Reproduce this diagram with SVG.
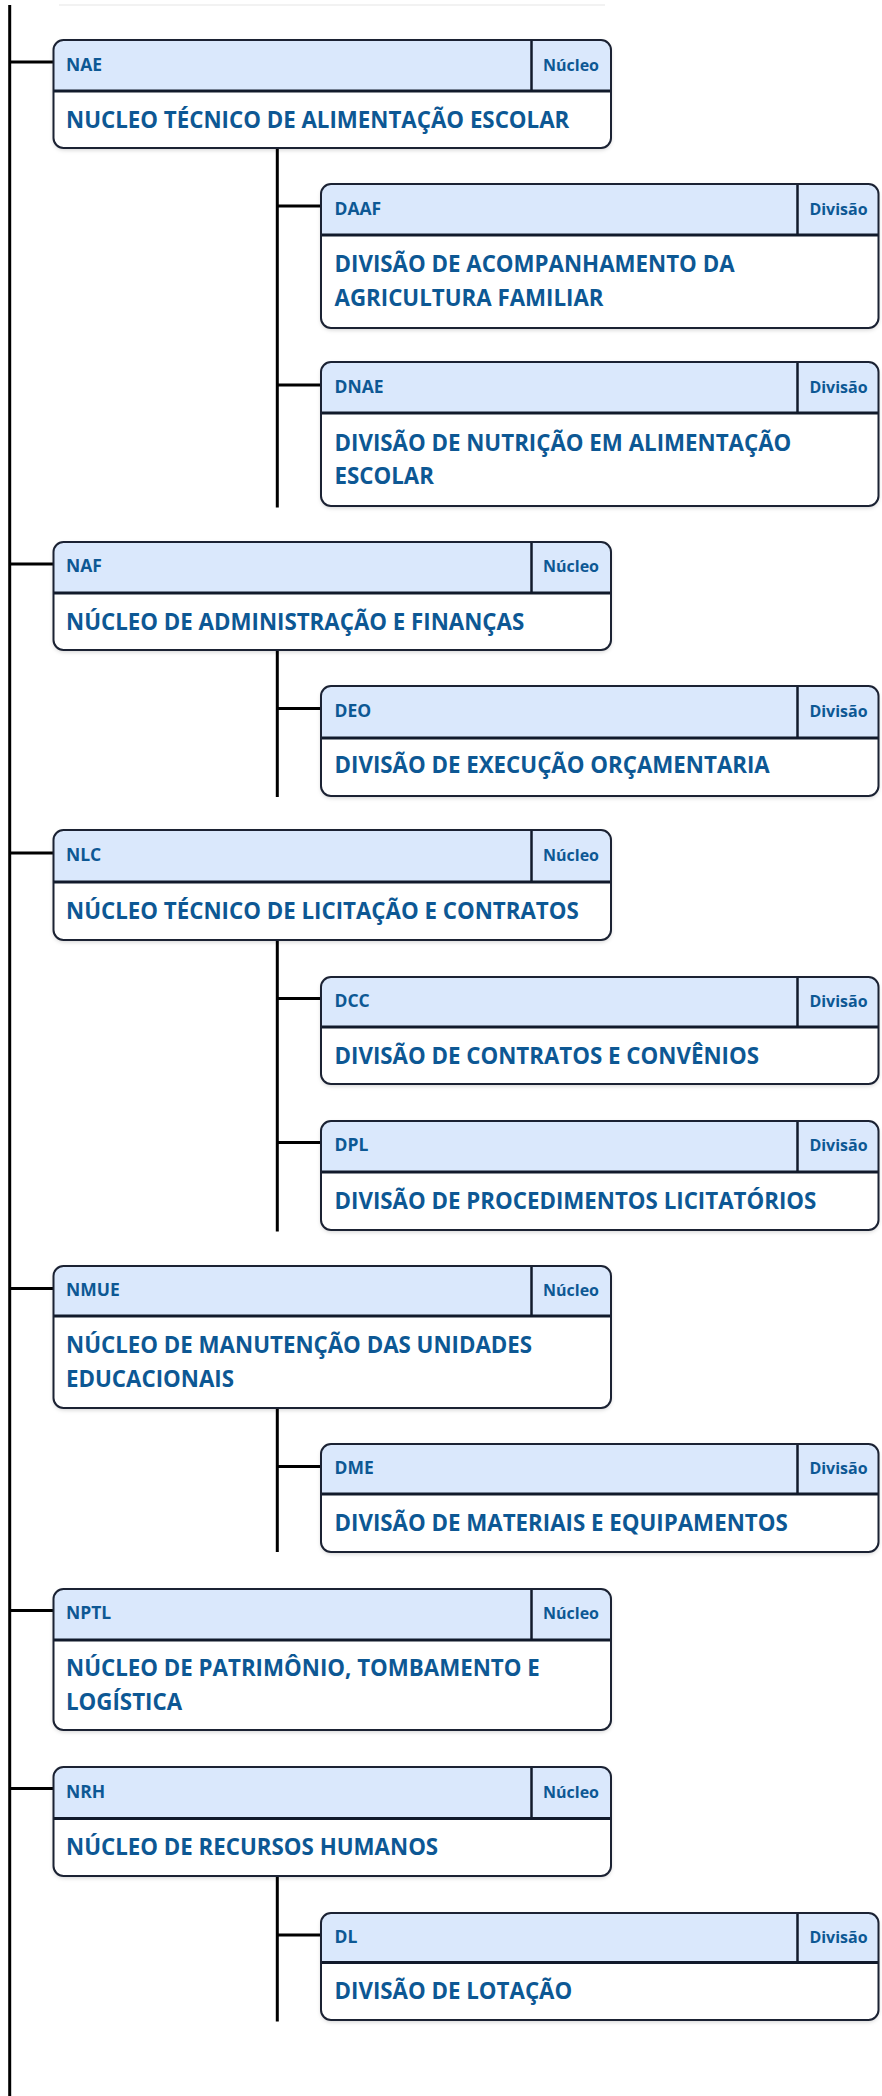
<svg xmlns="http://www.w3.org/2000/svg" width="882" height="2096" viewBox="0 0 882 2096">
<defs>
<filter id="sh" x="-5%" y="-10%" width="110%" height="130%">
<feDropShadow dx="0" dy="2" stdDeviation="2" flood-color="#000" flood-opacity="0.18"/>
</filter>
<style>
.bg{fill:#fff;filter:url(#sh)}
.hd{fill:#dae8fc}
.sep{stroke:#111a2b;stroke-width:3}
.dv{stroke:#111a2b;stroke-width:2.5}
.bd{fill:none;stroke:#1b2233;stroke-width:2}
text{font-family:"Open Sans","Noto Sans","DejaVu Sans",sans-serif;font-weight:700;fill:#0d5894}
.code{font-size:17.5px}
.type{font-size:16px;text-anchor:middle}
.ttl{font-size:22.3px}
.ln{stroke:#000;stroke-width:3;fill:none}
</style>
</defs>
<rect width="882" height="2096" fill="#fff"/>
<line x1="59" y1="5" x2="605" y2="5" stroke="#f2f2f2" stroke-width="2"/>

<g id="connectors" class="ln">
<path d="M9.7,5 V2096"/>
<path d="M9.7,62 H53.5 M9.7,564 H53.5 M9.7,853 H53.5 M9.7,1288.5 H53.5 M9.7,1610.5 H53.5 M9.7,1788.5 H53.5"/>
<path d="M277.3,148 V507.5 M277.3,206 H321 M277.3,385 H321"/>
<path d="M277.3,650 V797 M277.3,708.5 H321"/>
<path d="M277.3,939 V1231.5 M277.3,998.5 H321 M277.3,1142.5 H321"/>
<path d="M277.3,1408 V1552 M277.3,1466.5 H321"/>
<path d="M277.3,1876 V2021.5 M277.3,1935 H321"/>
</g>

<g id="NAE" transform="translate(53.5,40)">
<rect class="bg" width="557.5" height="108" rx="10"/>
<path class="hd" d="M0,51 V10 A10,10 0 0 1 10,0 H547.5 A10,10 0 0 1 557.5,10 V51 Z"/>
<line class="sep" x1="0" y1="51" x2="557.5" y2="51"/>
<line class="dv" x1="478" y1="0" x2="478" y2="51"/>
<rect class="bd" width="557.5" height="108" rx="10"/>
<text class="code" x="12.5" y="30.5">NAE</text>
<text class="type" x="517.5" y="30.5">Núcleo</text>
<text class="ttl" x="12.5" y="88">NUCLEO TÉCNICO DE ALIMENTAÇÃO ESCOLAR</text>
</g>

<g id="DAAF" transform="translate(321,184)">
<rect class="bg" width="557.5" height="144" rx="10"/>
<path class="hd" d="M0,51 V10 A10,10 0 0 1 10,0 H547.5 A10,10 0 0 1 557.5,10 V51 Z"/>
<line class="sep" x1="0" y1="51" x2="557.5" y2="51"/>
<line class="dv" x1="476.5" y1="0" x2="476.5" y2="51"/>
<rect class="bd" width="557.5" height="144" rx="10"/>
<text class="code" x="13.5" y="30.5">DAAF</text>
<text class="type" x="517.5" y="30.5">Divisão</text>
<text class="ttl" x="13.5" y="88">DIVISÃO DE ACOMPANHAMENTO DA</text>
<text class="ttl" x="13.5" y="122">AGRICULTURA FAMILIAR</text>
</g>

<g id="DNAE" transform="translate(321,362)">
<rect class="bg" width="557.5" height="144" rx="10"/>
<path class="hd" d="M0,51 V10 A10,10 0 0 1 10,0 H547.5 A10,10 0 0 1 557.5,10 V51 Z"/>
<line class="sep" x1="0" y1="51" x2="557.5" y2="51"/>
<line class="dv" x1="476.5" y1="0" x2="476.5" y2="51"/>
<rect class="bd" width="557.5" height="144" rx="10"/>
<text class="code" x="13.5" y="30.5">DNAE</text>
<text class="type" x="517.5" y="30.5">Divisão</text>
<text class="ttl" x="13.5" y="88.5">DIVISÃO DE NUTRIÇÃO EM ALIMENTAÇÃO</text>
<text class="ttl" x="13.5" y="122">ESCOLAR</text>
</g>

<g id="NAF" transform="translate(53.5,542)">
<rect class="bg" width="557.5" height="108" rx="10"/>
<path class="hd" d="M0,51 V10 A10,10 0 0 1 10,0 H547.5 A10,10 0 0 1 557.5,10 V51 Z"/>
<line class="sep" x1="0" y1="51" x2="557.5" y2="51"/>
<line class="dv" x1="478" y1="0" x2="478" y2="51"/>
<rect class="bd" width="557.5" height="108" rx="10"/>
<text class="code" x="12.5" y="30">NAF</text>
<text class="type" x="517.5" y="30">Núcleo</text>
<text class="ttl" x="12.5" y="87.5">NÚCLEO DE ADMINISTRAÇÃO E FINANÇAS</text>
</g>

<g id="DEO" transform="translate(321,686)">
<rect class="bg" width="557.5" height="110" rx="10"/>
<path class="hd" d="M0,52 V10 A10,10 0 0 1 10,0 H547.5 A10,10 0 0 1 557.5,10 V52 Z"/>
<line class="sep" x1="0" y1="52" x2="557.5" y2="52"/>
<line class="dv" x1="476.5" y1="0" x2="476.5" y2="52"/>
<rect class="bd" width="557.5" height="110" rx="10"/>
<text class="code" x="13.5" y="31">DEO</text>
<text class="type" x="517.5" y="31">Divisão</text>
<text class="ttl" x="13.5" y="87">DIVISÃO DE EXECUÇÃO ORÇAMENTARIA</text>
</g>

<g id="NLC" transform="translate(53.5,830)">
<rect class="bg" width="557.5" height="110" rx="10"/>
<path class="hd" d="M0,52 V10 A10,10 0 0 1 10,0 H547.5 A10,10 0 0 1 557.5,10 V52 Z"/>
<line class="sep" x1="0" y1="52" x2="557.5" y2="52"/>
<line class="dv" x1="478" y1="0" x2="478" y2="52"/>
<rect class="bd" width="557.5" height="110" rx="10"/>
<text class="code" x="12.5" y="31">NLC</text>
<text class="type" x="517.5" y="31">Núcleo</text>
<text class="ttl" x="12.5" y="89">NÚCLEO TÉCNICO DE LICITAÇÃO E CONTRATOS</text>
</g>

<g id="DCC" transform="translate(321,977)">
<rect class="bg" width="557.5" height="107" rx="10"/>
<path class="hd" d="M0,50 V10 A10,10 0 0 1 10,0 H547.5 A10,10 0 0 1 557.5,10 V50 Z"/>
<line class="sep" x1="0" y1="50" x2="557.5" y2="50"/>
<line class="dv" x1="476.5" y1="0" x2="476.5" y2="50"/>
<rect class="bd" width="557.5" height="107" rx="10"/>
<text class="code" x="13.5" y="30">DCC</text>
<text class="type" x="517.5" y="30">Divisão</text>
<text class="ttl" x="13.5" y="87">DIVISÃO DE CONTRATOS E CONVÊNIOS</text>
</g>

<g id="DPL" transform="translate(321,1121)">
<rect class="bg" width="557.5" height="109" rx="10"/>
<path class="hd" d="M0,51 V10 A10,10 0 0 1 10,0 H547.5 A10,10 0 0 1 557.5,10 V51 Z"/>
<line class="sep" x1="0" y1="51" x2="557.5" y2="51"/>
<line class="dv" x1="476.5" y1="0" x2="476.5" y2="51"/>
<rect class="bd" width="557.5" height="109" rx="10"/>
<text class="code" x="13.5" y="30">DPL</text>
<text class="type" x="517.5" y="30">Divisão</text>
<text class="ttl" x="13.5" y="88">DIVISÃO DE PROCEDIMENTOS LICITATÓRIOS</text>
</g>

<g id="NMUE" transform="translate(53.5,1266)">
<rect class="bg" width="557.5" height="142" rx="10"/>
<path class="hd" d="M0,50 V10 A10,10 0 0 1 10,0 H547.5 A10,10 0 0 1 557.5,10 V50 Z"/>
<line class="sep" x1="0" y1="50" x2="557.5" y2="50"/>
<line class="dv" x1="478" y1="0" x2="478" y2="50"/>
<rect class="bd" width="557.5" height="142" rx="10"/>
<text class="code" x="12.5" y="30">NMUE</text>
<text class="type" x="517.5" y="30">Núcleo</text>
<text class="ttl" x="12.5" y="87">NÚCLEO DE MANUTENÇÃO DAS UNIDADES</text>
<text class="ttl" x="12.5" y="121">EDUCACIONAIS</text>
</g>

<g id="DME" transform="translate(321,1444)">
<rect class="bg" width="557.5" height="108" rx="10"/>
<path class="hd" d="M0,50 V10 A10,10 0 0 1 10,0 H547.5 A10,10 0 0 1 557.5,10 V50 Z"/>
<line class="sep" x1="0" y1="50" x2="557.5" y2="50"/>
<line class="dv" x1="476.5" y1="0" x2="476.5" y2="50"/>
<rect class="bd" width="557.5" height="108" rx="10"/>
<text class="code" x="13.5" y="30">DME</text>
<text class="type" x="517.5" y="30">Divisão</text>
<text class="ttl" x="13.5" y="87">DIVISÃO DE MATERIAIS E EQUIPAMENTOS</text>
</g>

<g id="NPTL" transform="translate(53.5,1589)">
<rect class="bg" width="557.5" height="141" rx="10"/>
<path class="hd" d="M0,51 V10 A10,10 0 0 1 10,0 H547.5 A10,10 0 0 1 557.5,10 V51 Z"/>
<line class="sep" x1="0" y1="51" x2="557.5" y2="51"/>
<line class="dv" x1="478" y1="0" x2="478" y2="51"/>
<rect class="bd" width="557.5" height="141" rx="10"/>
<text class="code" x="12.5" y="30">NPTL</text>
<text class="type" x="517.5" y="30">Núcleo</text>
<text class="ttl" x="12.5" y="87">NÚCLEO DE PATRIMÔNIO, TOMBAMENTO E</text>
<text class="ttl" x="12.5" y="121">LOGÍSTICA</text>
</g>

<g id="NRH" transform="translate(53.5,1767)">
<rect class="bg" width="557.5" height="109" rx="10"/>
<path class="hd" d="M0,51.5 V10 A10,10 0 0 1 10,0 H547.5 A10,10 0 0 1 557.5,10 V51.5 Z"/>
<line class="sep" x1="0" y1="51.5" x2="557.5" y2="51.5"/>
<line class="dv" x1="478" y1="0" x2="478" y2="51.5"/>
<rect class="bd" width="557.5" height="109" rx="10"/>
<text class="code" x="12.5" y="30.5">NRH</text>
<text class="type" x="517.5" y="30.5">Núcleo</text>
<text class="ttl" x="12.5" y="88">NÚCLEO DE RECURSOS HUMANOS</text>
</g>

<g id="DL" transform="translate(321,1913)">
<rect class="bg" width="557.5" height="107" rx="10"/>
<path class="hd" d="M0,49.5 V10 A10,10 0 0 1 10,0 H547.5 A10,10 0 0 1 557.5,10 V49.5 Z"/>
<line class="sep" x1="0" y1="49.5" x2="557.5" y2="49.5"/>
<line class="dv" x1="476.5" y1="0" x2="476.5" y2="49.5"/>
<rect class="bd" width="557.5" height="107" rx="10"/>
<text class="code" x="13.5" y="30">DL</text>
<text class="type" x="517.5" y="30">Divisão</text>
<text class="ttl" x="13.5" y="86">DIVISÃO DE LOTAÇÃO</text>
</g>
</svg>
